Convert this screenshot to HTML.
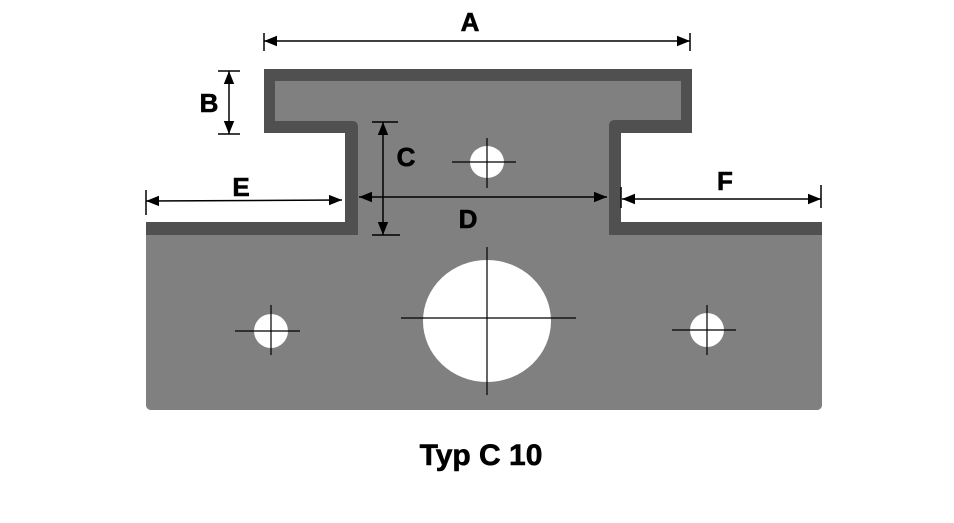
<!DOCTYPE html>
<html><head><style>
html,body{margin:0;padding:0;background:#fff;width:954px;height:523px;overflow:hidden}
text{font-family:"Liberation Sans",Arial,sans-serif;font-weight:bold;fill:#000}
</style></head><body>
<svg width="954" height="523" viewBox="0 0 954 523" xmlns="http://www.w3.org/2000/svg">
<defs>
<marker id="ar" viewBox="0 0 10 10" refX="10" refY="5" markerWidth="13" markerHeight="13" markerUnits="userSpaceOnUse" orient="auto-start-reverse">
<path d="M0,1 L10,5 L0,9 z" fill="#000"/></marker>
</defs>
<path d="M264,69 H692 V133 H621 V222 H822 V404 Q822,410 816,410 H152 Q146,410 146,404 V222 H345 V133 H264 Z" fill="#505050"/>
<path d="M275,81 H681 V120 H615 Q609,120 609,126 V235 H822 V404 Q822,410 816,410 H152 Q146,410 146,404 V235 H358 V127 Q358,121 352,121 H275 Z" fill="#808080"/>
<ellipse cx="487" cy="162" rx="17" ry="16" fill="#fff"/>
<ellipse cx="487" cy="321" rx="64" ry="61" fill="#fff"/>
<circle cx="271" cy="331" r="17" fill="#fff"/>
<circle cx="707" cy="330" r="17" fill="#fff"/>
<g stroke="#000" stroke-width="1.2">
<line x1="452" y1="162" x2="516" y2="162"/><line x1="487" y1="138" x2="487" y2="188"/>
<line x1="401" y1="318" x2="576" y2="318"/><line x1="487" y1="247" x2="487" y2="395"/>
<line x1="235" y1="331" x2="300" y2="331"/><line x1="271" y1="305" x2="271" y2="355"/>
<line x1="672" y1="330" x2="736" y2="330"/><line x1="707" y1="305" x2="707" y2="355"/>
</g>
<g stroke="#000" stroke-width="1.5" fill="none">
<line x1="264" y1="41" x2="690" y2="41" marker-start="url(#ar)" marker-end="url(#ar)"/>
<line x1="264" y1="33" x2="264" y2="51"/><line x1="690" y1="33" x2="690" y2="51"/>
<line x1="229" y1="71" x2="229" y2="134" marker-start="url(#ar)" marker-end="url(#ar)"/>
<line x1="218" y1="71" x2="240" y2="71"/><line x1="218" y1="134" x2="240" y2="134"/>
<line x1="383" y1="122" x2="383" y2="235" marker-start="url(#ar)" marker-end="url(#ar)"/>
<line x1="372" y1="122" x2="398" y2="122"/><line x1="372" y1="235" x2="400" y2="235"/>
<line x1="359" y1="197" x2="607" y2="197" marker-start="url(#ar)" marker-end="url(#ar)"/>
<line x1="146" y1="201" x2="342" y2="200" marker-start="url(#ar)" marker-end="url(#ar)"/>
<line x1="146" y1="190" x2="146" y2="215"/>
<line x1="622" y1="199" x2="821" y2="199" marker-start="url(#ar)" marker-end="url(#ar)"/>
<line x1="621" y1="187" x2="621" y2="208"/><line x1="821" y1="185" x2="821" y2="208"/>
</g>
<g font-size="26" text-anchor="middle" stroke="#000" stroke-width="0.6">
<text x="470" y="31">A</text>
<text x="209" y="112">B</text>
<text x="406" y="166">C</text>
<text x="468" y="228">D</text>
<text x="241" y="196">E</text>
<text x="725" y="190">F</text>
</g>
<text x="481" y="465" font-size="30" text-anchor="middle" stroke="#000" stroke-width="0.6">Typ C 10</text>
</svg>
</body></html>
